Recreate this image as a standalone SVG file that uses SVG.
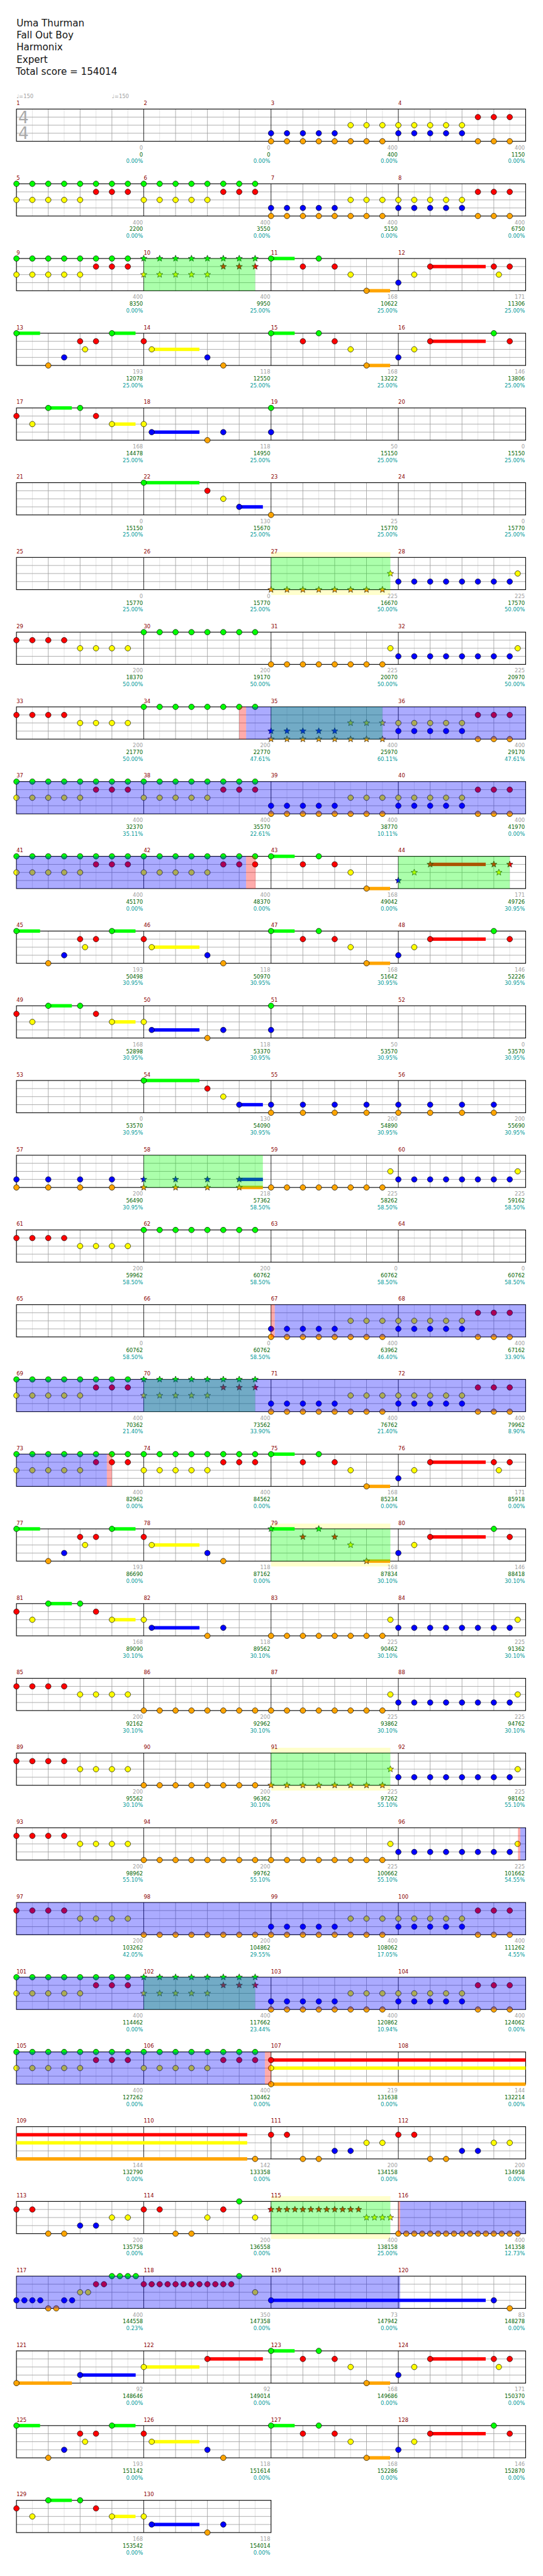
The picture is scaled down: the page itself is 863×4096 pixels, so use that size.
<svg xmlns="http://www.w3.org/2000/svg" width="863" height="4096" viewBox="0 0 863 4096">
<style>
text{font-family:"DejaVu Sans","Liberation Sans",sans-serif}
.t{font-size:18px;fill:#111}
.mn{font-size:10px;fill:#8b0000}
.l1,.l2,.l3{font-size:10px;text-anchor:end}
.l1{fill:#a0a0a0}.l2{fill:#006400}.l3{fill:#009999}
.tp{font-size:10px;fill:#a0a0a0}
.ts{font-size:31px;fill:#aaa}
.gz{fill:#0f0;fill-opacity:.33}.bz{fill:#00f;fill-opacity:.33}.rz{fill:#f00;fill-opacity:.33}.yz{fill:#ffffcc}
</style>
<defs>
<path id="st" d="M0-6.3L1.6-2.2L6-2L2.6.8L3.7 5.1L0 2.7L-3.7 5.1L-2.6.8L-6-2L-1.6-2.2Z" stroke="#000" stroke-width=".7"/>
<circle id="g" r="5.2" fill="#0f0" stroke="#000" stroke-width=".8"/>
<circle id="r" cy="15.2" r="5.2" fill="#f00" stroke="#000" stroke-width=".8"/>
<circle id="y" cy="30.4" r="5.2" fill="#ff0" stroke="#000" stroke-width=".8"/>
<circle id="b" cy="45.6" r="5.2" fill="#00f" stroke="#000" stroke-width=".8"/>
<circle id="o" cy="60.8" r="5.2" fill="#ffa500" stroke="#000" stroke-width=".8"/>
<use id="sg" href="#st" fill="#0f0"/>
<use id="sr" href="#st" y="15.2" fill="#f00"/>
<use id="sy" href="#st" y="30.4" fill="#ff0"/>
<use id="sb" href="#st" y="45.6" fill="#00f"/>
<use id="so" href="#st" y="60.8" fill="#ffa500"/>
<g id="s4">
<rect x="31" width="960" height="60.8" fill="#fff"/>
<path stroke="#dedede" d="M61 0v60.8M121 0v60.8M181 0v60.8M241 0v60.8M301 0v60.8M361 0v60.8M421 0v60.8M481 0v60.8M541 0v60.8M601 0v60.8M661 0v60.8M721 0v60.8M781 0v60.8M841 0v60.8M901 0v60.8M961 0v60.8"/>
<path stroke="#a0a0a0" d="M91 0v60.8M151 0v60.8M211 0v60.8M331 0v60.8M391 0v60.8M451 0v60.8M571 0v60.8M631 0v60.8M691 0v60.8M811 0v60.8M871 0v60.8M931 0v60.8M31 15.2h960M31 30.4h960M31 45.6h960"/>
<path stroke="#000" d="M271 0v60.8M511 0v60.8M751 0v60.8"/>
<rect x="31" width="960" height="60.8" fill="none" stroke="#000" stroke-width="1.3"/>
</g>
<g id="s2">
<rect x="31" width="480" height="60.8" fill="#fff"/>
<path stroke="#dedede" d="M61 0v60.8M121 0v60.8M181 0v60.8M241 0v60.8M301 0v60.8M361 0v60.8M421 0v60.8M481 0v60.8"/>
<path stroke="#a0a0a0" d="M91 0v60.8M151 0v60.8M211 0v60.8M331 0v60.8M391 0v60.8M451 0v60.8M31 15.2h480M31 30.4h480M31 45.6h480"/>
<path stroke="#000" d="M271 0v60.8"/>
<rect x="31" width="480" height="60.8" fill="none" stroke="#000" stroke-width="1.3"/>
</g>
<g id="riff1"><use href="#g"/><use href="#g" x="30"/><use href="#g" x="60"/><use href="#g" x="90"/><use href="#g" x="120"/><use href="#g" x="150"/><use href="#g" x="180"/><use href="#g" x="210"/><use href="#r" x="150"/><use href="#r" x="180"/><use href="#r" x="210"/><use href="#y"/><use href="#y" x="30"/><use href="#y" x="60"/><use href="#y" x="90"/><use href="#y" x="120"/></g>
<g id="riff1S"><use href="#sg"/><use href="#sg" x="30"/><use href="#sg" x="60"/><use href="#sg" x="90"/><use href="#sg" x="120"/><use href="#sg" x="150"/><use href="#sg" x="180"/><use href="#sg" x="210"/><use href="#sr" x="150"/><use href="#sr" x="180"/><use href="#sr" x="210"/><use href="#sy"/><use href="#sy" x="30"/><use href="#sy" x="60"/><use href="#sy" x="90"/><use href="#sy" x="120"/></g>
<g id="riff"><use href="#riff1"/><use href="#riff1" x="240"/></g>
<g id="bo1"><use href="#b"/><use href="#b" x="30"/><use href="#b" x="60"/><use href="#b" x="90"/><use href="#b" x="120"/><use href="#o"/><use href="#o" x="30"/><use href="#o" x="60"/><use href="#o" x="90"/><use href="#o" x="120"/><use href="#o" x="150"/><use href="#o" x="180"/><use href="#o" x="210"/><use href="#y" x="150"/><use href="#y" x="180"/><use href="#y" x="210"/></g>
<g id="bo1S"><use href="#sb"/><use href="#sb" x="30"/><use href="#sb" x="60"/><use href="#sb" x="90"/><use href="#sb" x="120"/><use href="#so"/><use href="#so" x="30"/><use href="#so" x="60"/><use href="#so" x="90"/><use href="#so" x="120"/><use href="#so" x="150"/><use href="#so" x="180"/><use href="#so" x="210"/><use href="#sy" x="150"/><use href="#sy" x="180"/><use href="#sy" x="210"/></g>
<g id="bo2"><use href="#y" x="240"/><use href="#y" x="270"/><use href="#y" x="300"/><use href="#y" x="330"/><use href="#y" x="360"/><use href="#b" x="240"/><use href="#b" x="270"/><use href="#b" x="300"/><use href="#b" x="330"/><use href="#b" x="360"/><use href="#r" x="390"/><use href="#r" x="420"/><use href="#r" x="450"/><use href="#o" x="390"/><use href="#o" x="420"/><use href="#o" x="450"/></g>
<g id="bo"><use href="#bo1"/><use href="#bo2"/></g>
<g id="c1x"><rect y="-3.2" width="44.5" height="6.4" fill="#0f0"/><use href="#g"/><use href="#g" x="90"/><use href="#r" x="60"/><use href="#r" x="120"/><use href="#y" x="150"/><rect x="180" y="57.6" width="44.5" height="6.4" fill="#ffa500"/><use href="#o" x="180"/></g>
<g id="c1xS"><rect y="-3.2" width="44.5" height="6.4" fill="#0f0"/><use href="#sg"/><use href="#sg" x="90"/><use href="#sr" x="60"/><use href="#sr" x="120"/><use href="#sy" x="150"/><rect x="180" y="57.6" width="44.5" height="6.4" fill="#ffa500"/><use href="#so" x="180"/></g>
<g id="c1y"><use href="#b" x="240"/><use href="#y" x="270"/><rect x="300" y="12" width="104.7" height="6.4" fill="#f00"/><use href="#r" x="300"/><use href="#r" x="450"/></g>
<g id="c1a"><use href="#c1x"/><use href="#c1y"/><use href="#r" x="420"/><use href="#y" x="429.5"/></g>
<g id="c1b"><use href="#c1x"/><use href="#c1y"/><use href="#g" x="420"/></g>
<g id="c13"><rect y="-3.2" width="44.5" height="6.4" fill="#0f0"/><use href="#g"/><rect x="180" y="-3.2" width="44.5" height="6.4" fill="#0f0"/><use href="#g" x="180"/><use href="#r" x="120"/><use href="#r" x="150"/><use href="#r" x="240"/><use href="#y" x="129.4"/><use href="#b" x="90"/><use href="#o" x="60"/><rect x="255" y="27.2" width="90" height="6.4" fill="#ff0"/><use href="#y" x="255"/><use href="#b" x="360"/><use href="#o" x="390"/></g>
<g id="c17"><use href="#r"/><use href="#y" x="30"/><rect x="60" y="-3.2" width="44.5" height="6.4" fill="#0f0"/><use href="#g" x="60"/><use href="#g" x="120"/><use href="#r" x="150"/><rect x="180" y="27.2" width="44.5" height="6.4" fill="#ff0"/><use href="#y" x="180"/><use href="#y" x="240"/><rect x="255" y="42.4" width="90" height="6.4" fill="#00f"/><use href="#b" x="255"/><use href="#o" x="360"/><use href="#b" x="390"/></g>
<g id="ry"><use href="#r"/><use href="#r" x="30"/><use href="#r" x="60"/><use href="#r" x="90"/><use href="#y" x="120"/><use href="#y" x="150"/><use href="#y" x="180"/><use href="#y" x="210"/></g>
<g id="g8"><use href="#g"/><use href="#g" x="30"/><use href="#g" x="60"/><use href="#g" x="90"/><use href="#g" x="120"/><use href="#g" x="150"/><use href="#g" x="180"/><use href="#g" x="210"/></g>
<g id="o8"><use href="#o"/><use href="#o" x="30"/><use href="#o" x="60"/><use href="#o" x="90"/><use href="#o" x="120"/><use href="#o" x="150"/><use href="#o" x="180"/><use href="#o" x="210"/></g>
<g id="tO"><use href="#o8"/><use href="#y" x="225"/></g>
<g id="tOS"><use href="#so"/><use href="#so" x="30"/><use href="#so" x="60"/><use href="#so" x="90"/><use href="#so" x="120"/><use href="#so" x="150"/><use href="#so" x="180"/><use href="#so" x="210"/><use href="#sy" x="225"/></g>
<g id="tB"><use href="#b" x="240"/><use href="#b" x="270"/><use href="#b" x="300"/><use href="#b" x="330"/><use href="#b" x="360"/><use href="#b" x="390"/><use href="#b" x="420"/><use href="#b" x="450"/><use href="#y" x="465"/></g>
<g id="tail"><use href="#tO"/><use href="#tB"/></g>
<g id="gs"><rect y="-3.2" width="105" height="6.4" fill="#0f0"/><use href="#g"/><use href="#r" x="120"/><use href="#y" x="150"/><rect x="180" y="42.4" width="44.6" height="6.4" fill="#00f"/><use href="#b" x="180"/></g>
</defs>
<rect width="863" height="4096" fill="#fff"/>
<g transform="scale(0.843)">
<g id="title">
<text class="t" x="31" y="49.3">Uma Thurman</text>
<text class="t" x="31" y="72.3">Fall Out Boy</text>
<text class="t" x="31" y="95.2">Harmonix</text>
<text class="t" x="31" y="118.3">Expert</text>
<text class="t" x="30" y="141.3">Total score = 154014</text>
</g>

<g id="row0" transform="translate(0,205.7)">
<use href="#s4"/>
<text class="tp" x="31" y="-20.5">♩=150</text><text class="tp" x="211" y="-20.5">♩=150</text>
<text class="ts" x="34.5" y="26.6">4</text><text class="ts" x="34.5" y="56.6">4</text>
<text class="mn" y="-7.5"><tspan x="31">1</tspan><tspan x="271">2</tspan><tspan x="511">3</tspan><tspan x="751">4</tspan></text>
<text class="l1" y="76.3"><tspan x="269.5">0</tspan><tspan x="509.5">0</tspan><tspan x="749.5">400</tspan><tspan x="989.5">400</tspan></text>
<text class="l2" y="89.3"><tspan x="269.5">0</tspan><tspan x="509.5">0</tspan><tspan x="749.5">400</tspan><tspan x="989.5">1150</tspan></text>
<text class="l3" y="102"><tspan x="269.5">0.00%</tspan><tspan x="509.5">0.00%</tspan><tspan x="749.5">0.00%</tspan><tspan x="989.5">0.00%</tspan></text>
<use href="#bo" x="511"/>
</g>

<g id="row1" transform="translate(0,346.65)">
<use href="#s4"/>
<text class="mn" y="-7.5"><tspan x="31">5</tspan><tspan x="271">6</tspan><tspan x="511">7</tspan><tspan x="751">8</tspan></text>
<text class="l1" y="76.3"><tspan x="269.5">400</tspan><tspan x="509.5">400</tspan><tspan x="749.5">400</tspan><tspan x="989.5">400</tspan></text>
<text class="l2" y="89.3"><tspan x="269.5">2200</tspan><tspan x="509.5">3550</tspan><tspan x="749.5">5150</tspan><tspan x="989.5">6750</tspan></text>
<text class="l3" y="102"><tspan x="269.5">0.00%</tspan><tspan x="509.5">0.00%</tspan><tspan x="749.5">0.00%</tspan><tspan x="989.5">0.00%</tspan></text>
<use href="#riff" x="31"/><use href="#bo" x="511"/>
</g>

<g id="row2" transform="translate(0,487.6)">
<use href="#s4"/>
<text class="mn" y="-7.5"><tspan x="31">9</tspan><tspan x="271">10</tspan><tspan x="511">11</tspan><tspan x="751">12</tspan></text>
<text class="l1" y="76.3"><tspan x="269.5">400</tspan><tspan x="509.5">400</tspan><tspan x="749.5">168</tspan><tspan x="989.5">171</tspan></text>
<text class="l2" y="89.3"><tspan x="269.5">8350</tspan><tspan x="509.5">9950</tspan><tspan x="749.5">10622</tspan><tspan x="989.5">11306</tspan></text>
<text class="l3" y="102"><tspan x="269.5">0.00%</tspan><tspan x="509.5">25.00%</tspan><tspan x="749.5">25.00%</tspan><tspan x="989.5">25.00%</tspan></text>
<use href="#riff1" x="31"/><use href="#riff1S" x="271"/><use href="#c1a" x="511"/>
<rect class="gz" x="271" width="210" height="60.8"/>
</g>

<g id="row3" transform="translate(0,628.55)">
<use href="#s4"/>
<text class="mn" y="-7.5"><tspan x="31">13</tspan><tspan x="271">14</tspan><tspan x="511">15</tspan><tspan x="751">16</tspan></text>
<text class="l1" y="76.3"><tspan x="269.5">193</tspan><tspan x="509.5">118</tspan><tspan x="749.5">168</tspan><tspan x="989.5">146</tspan></text>
<text class="l2" y="89.3"><tspan x="269.5">12078</tspan><tspan x="509.5">12550</tspan><tspan x="749.5">13222</tspan><tspan x="989.5">13806</tspan></text>
<text class="l3" y="102"><tspan x="269.5">25.00%</tspan><tspan x="509.5">25.00%</tspan><tspan x="749.5">25.00%</tspan><tspan x="989.5">25.00%</tspan></text>
<use href="#c13" x="31"/><use href="#c1b" x="511"/>
</g>

<g id="row4" transform="translate(0,769.5)">
<use href="#s4"/>
<text class="mn" y="-7.5"><tspan x="31">17</tspan><tspan x="271">18</tspan><tspan x="511">19</tspan><tspan x="751">20</tspan></text>
<text class="l1" y="76.3"><tspan x="269.5">168</tspan><tspan x="509.5">118</tspan><tspan x="749.5">50</tspan><tspan x="989.5">0</tspan></text>
<text class="l2" y="89.3"><tspan x="269.5">14478</tspan><tspan x="509.5">14950</tspan><tspan x="749.5">15150</tspan><tspan x="989.5">15150</tspan></text>
<text class="l3" y="102"><tspan x="269.5">25.00%</tspan><tspan x="509.5">25.00%</tspan><tspan x="749.5">25.00%</tspan><tspan x="989.5">25.00%</tspan></text>
<use href="#c17" x="31"/><use href="#g" x="511"/><use href="#b" x="511"/>
</g>

<g id="row5" transform="translate(0,910.45)">
<use href="#s4"/>
<text class="mn" y="-7.5"><tspan x="31">21</tspan><tspan x="271">22</tspan><tspan x="511">23</tspan><tspan x="751">24</tspan></text>
<text class="l1" y="76.3"><tspan x="269.5">0</tspan><tspan x="509.5">130</tspan><tspan x="749.5">25</tspan><tspan x="989.5">0</tspan></text>
<text class="l2" y="89.3"><tspan x="269.5">15150</tspan><tspan x="509.5">15670</tspan><tspan x="749.5">15770</tspan><tspan x="989.5">15770</tspan></text>
<text class="l3" y="102"><tspan x="269.5">25.00%</tspan><tspan x="509.5">25.00%</tspan><tspan x="749.5">25.00%</tspan><tspan x="989.5">25.00%</tspan></text>
<use href="#gs" x="271"/><use href="#o" x="511"/>
</g>

<g id="row6" transform="translate(0,1051.4)">
<rect class="yz" x="511" y="-10" width="225" height="80.8"/>
<use href="#s4"/>
<text class="mn" y="-7.5"><tspan x="31">25</tspan><tspan x="271">26</tspan><tspan x="511">27</tspan><tspan x="751">28</tspan></text>
<text class="l1" y="76.3"><tspan x="269.5">0</tspan><tspan x="509.5">0</tspan><tspan x="749.5">225</tspan><tspan x="989.5">225</tspan></text>
<text class="l2" y="89.3"><tspan x="269.5">15770</tspan><tspan x="509.5">15770</tspan><tspan x="749.5">16670</tspan><tspan x="989.5">17570</tspan></text>
<text class="l3" y="102"><tspan x="269.5">25.00%</tspan><tspan x="509.5">25.00%</tspan><tspan x="749.5">50.00%</tspan><tspan x="989.5">50.00%</tspan></text>
<use href="#tOS" x="511"/><use href="#tB" x="511"/>
<rect class="gz" x="511" width="225" height="60.8"/>
</g>

<g id="row7" transform="translate(0,1192.35)">
<use href="#s4"/>
<text class="mn" y="-7.5"><tspan x="31">29</tspan><tspan x="271">30</tspan><tspan x="511">31</tspan><tspan x="751">32</tspan></text>
<text class="l1" y="76.3"><tspan x="269.5">200</tspan><tspan x="509.5">200</tspan><tspan x="749.5">225</tspan><tspan x="989.5">225</tspan></text>
<text class="l2" y="89.3"><tspan x="269.5">18370</tspan><tspan x="509.5">19170</tspan><tspan x="749.5">20070</tspan><tspan x="989.5">20970</tspan></text>
<text class="l3" y="102"><tspan x="269.5">50.00%</tspan><tspan x="509.5">50.00%</tspan><tspan x="749.5">50.00%</tspan><tspan x="989.5">50.00%</tspan></text>
<use href="#ry" x="31"/><use href="#g8" x="271"/><use href="#tail" x="511"/>
</g>

<g id="row8" transform="translate(0,1333.3)">
<use href="#s4"/>
<text class="mn" y="-7.5"><tspan x="31">33</tspan><tspan x="271">34</tspan><tspan x="511">35</tspan><tspan x="751">36</tspan></text>
<text class="l1" y="76.3"><tspan x="269.5">200</tspan><tspan x="509.5">200</tspan><tspan x="749.5">400</tspan><tspan x="989.5">400</tspan></text>
<text class="l2" y="89.3"><tspan x="269.5">21770</tspan><tspan x="509.5">22770</tspan><tspan x="749.5">25970</tspan><tspan x="989.5">29170</tspan></text>
<text class="l3" y="102"><tspan x="269.5">50.00%</tspan><tspan x="509.5">47.61%</tspan><tspan x="749.5">60.11%</tspan><tspan x="989.5">47.61%</tspan></text>
<use href="#ry" x="31"/><use href="#g8" x="271"/><use href="#bo1S" x="511"/><use href="#bo2" x="511"/>
<rect class="gz" x="511" width="210" height="60.8"/>
<rect class="rz" x="451" width="13" height="60.8"/>
<rect class="bz" x="464" width="527" height="60.8"/>
</g>

<g id="row9" transform="translate(0,1474.25)">
<use href="#s4"/>
<text class="mn" y="-7.5"><tspan x="31">37</tspan><tspan x="271">38</tspan><tspan x="511">39</tspan><tspan x="751">40</tspan></text>
<text class="l1" y="76.3"><tspan x="269.5">400</tspan><tspan x="509.5">400</tspan><tspan x="749.5">400</tspan><tspan x="989.5">400</tspan></text>
<text class="l2" y="89.3"><tspan x="269.5">32370</tspan><tspan x="509.5">35570</tspan><tspan x="749.5">38770</tspan><tspan x="989.5">41970</tspan></text>
<text class="l3" y="102"><tspan x="269.5">35.11%</tspan><tspan x="509.5">22.61%</tspan><tspan x="749.5">10.11%</tspan><tspan x="989.5">0.00%</tspan></text>
<use href="#riff" x="31"/><use href="#bo" x="511"/>
<rect class="bz" x="31" width="960" height="60.8"/>
</g>

<g id="row10" transform="translate(0,1615.2)">
<use href="#s4"/>
<text class="mn" y="-7.5"><tspan x="31">41</tspan><tspan x="271">42</tspan><tspan x="511">43</tspan><tspan x="751">44</tspan></text>
<text class="l1" y="76.3"><tspan x="269.5">400</tspan><tspan x="509.5">400</tspan><tspan x="749.5">168</tspan><tspan x="989.5">171</tspan></text>
<text class="l2" y="89.3"><tspan x="269.5">45170</tspan><tspan x="509.5">48370</tspan><tspan x="749.5">49042</tspan><tspan x="989.5">49726</tspan></text>
<text class="l3" y="102"><tspan x="269.5">0.00%</tspan><tspan x="509.5">0.00%</tspan><tspan x="749.5">0.00%</tspan><tspan x="989.5">30.95%</tspan></text>
<use href="#riff" x="31"/><use href="#c1x" x="511"/>
<use href="#sb" x="751"/><use href="#sy" x="781"/><rect x="811" y="12" width="104.7" height="6.4" fill="#f00"/><use href="#sr" x="811"/><use href="#sr" x="931"/><use href="#sy" x="940.5"/><use href="#sr" x="961"/>
<rect class="gz" x="751" width="210" height="60.8"/>
<rect class="bz" x="31" width="433" height="60.8"/>
<rect class="rz" x="464" width="18" height="60.8"/>
</g>

<g id="row11" transform="translate(0,1756.15)">
<use href="#s4"/>
<text class="mn" y="-7.5"><tspan x="31">45</tspan><tspan x="271">46</tspan><tspan x="511">47</tspan><tspan x="751">48</tspan></text>
<text class="l1" y="76.3"><tspan x="269.5">193</tspan><tspan x="509.5">118</tspan><tspan x="749.5">168</tspan><tspan x="989.5">146</tspan></text>
<text class="l2" y="89.3"><tspan x="269.5">50498</tspan><tspan x="509.5">50970</tspan><tspan x="749.5">51642</tspan><tspan x="989.5">52226</tspan></text>
<text class="l3" y="102"><tspan x="269.5">30.95%</tspan><tspan x="509.5">30.95%</tspan><tspan x="749.5">30.95%</tspan><tspan x="989.5">30.95%</tspan></text>
<use href="#c13" x="31"/><use href="#c1b" x="511"/>
</g>

<g id="row12" transform="translate(0,1897.1)">
<use href="#s4"/>
<text class="mn" y="-7.5"><tspan x="31">49</tspan><tspan x="271">50</tspan><tspan x="511">51</tspan><tspan x="751">52</tspan></text>
<text class="l1" y="76.3"><tspan x="269.5">168</tspan><tspan x="509.5">118</tspan><tspan x="749.5">50</tspan><tspan x="989.5">0</tspan></text>
<text class="l2" y="89.3"><tspan x="269.5">52898</tspan><tspan x="509.5">53370</tspan><tspan x="749.5">53570</tspan><tspan x="989.5">53570</tspan></text>
<text class="l3" y="102"><tspan x="269.5">30.95%</tspan><tspan x="509.5">30.95%</tspan><tspan x="749.5">30.95%</tspan><tspan x="989.5">30.95%</tspan></text>
<use href="#c17" x="31"/><use href="#g" x="511"/><use href="#b" x="511"/>
</g>

<g id="row13" transform="translate(0,2038.05)">
<use href="#s4"/>
<text class="mn" y="-7.5"><tspan x="31">53</tspan><tspan x="271">54</tspan><tspan x="511">55</tspan><tspan x="751">56</tspan></text>
<text class="l1" y="76.3"><tspan x="269.5">0</tspan><tspan x="509.5">130</tspan><tspan x="749.5">200</tspan><tspan x="989.5">200</tspan></text>
<text class="l2" y="89.3"><tspan x="269.5">53570</tspan><tspan x="509.5">54090</tspan><tspan x="749.5">54890</tspan><tspan x="989.5">55690</tspan></text>
<text class="l3" y="102"><tspan x="269.5">30.95%</tspan><tspan x="509.5">30.95%</tspan><tspan x="749.5">30.95%</tspan><tspan x="989.5">30.95%</tspan></text>
<use href="#gs" x="271"/>
<use href="#b" x="511"/><use href="#b" x="571"/><use href="#b" x="631"/><use href="#b" x="691"/><use href="#b" x="751"/><use href="#b" x="811"/><use href="#b" x="871"/><use href="#b" x="931"/>
<use href="#o" x="511"/><use href="#o" x="571"/><use href="#o" x="631"/><use href="#o" x="691"/><use href="#o" x="751"/><use href="#o" x="811"/><use href="#o" x="871"/><use href="#o" x="931"/>
</g>

<g id="row14" transform="translate(0,2179)">
<use href="#s4"/>
<text class="mn" y="-7.5"><tspan x="31">57</tspan><tspan x="271">58</tspan><tspan x="511">59</tspan><tspan x="751">60</tspan></text>
<text class="l1" y="76.3"><tspan x="269.5">200</tspan><tspan x="509.5">218</tspan><tspan x="749.5">225</tspan><tspan x="989.5">225</tspan></text>
<text class="l2" y="89.3"><tspan x="269.5">56490</tspan><tspan x="509.5">57362</tspan><tspan x="749.5">58262</tspan><tspan x="989.5">59162</tspan></text>
<text class="l3" y="102"><tspan x="269.5">30.95%</tspan><tspan x="509.5">58.50%</tspan><tspan x="749.5">58.50%</tspan><tspan x="989.5">58.50%</tspan></text>
<use href="#b" x="31"/><use href="#b" x="91"/><use href="#b" x="151"/><use href="#b" x="211"/>
<use href="#o" x="31"/><use href="#o" x="91"/><use href="#o" x="151"/><use href="#o" x="211"/>
<rect x="451" y="42.4" width="44.6" height="6.4" fill="#00f"/><rect x="451" y="57.6" width="44.6" height="6.4" fill="#ffa500"/>
<use href="#sb" x="271"/><use href="#sb" x="331"/><use href="#sb" x="391"/><use href="#sb" x="451"/>
<use href="#so" x="271"/><use href="#so" x="331"/><use href="#so" x="391"/><use href="#so" x="451"/>
<use href="#tail" x="511"/>
<rect class="gz" x="271" width="224.6" height="60.8"/>
</g>

<g id="row15" transform="translate(0,2319.95)">
<use href="#s4"/>
<text class="mn" y="-7.5"><tspan x="31">61</tspan><tspan x="271">62</tspan><tspan x="511">63</tspan><tspan x="751">64</tspan></text>
<text class="l1" y="76.3"><tspan x="269.5">200</tspan><tspan x="509.5">200</tspan><tspan x="749.5">0</tspan><tspan x="989.5">0</tspan></text>
<text class="l2" y="89.3"><tspan x="269.5">59962</tspan><tspan x="509.5">60762</tspan><tspan x="749.5">60762</tspan><tspan x="989.5">60762</tspan></text>
<text class="l3" y="102"><tspan x="269.5">58.50%</tspan><tspan x="509.5">58.50%</tspan><tspan x="749.5">58.50%</tspan><tspan x="989.5">58.50%</tspan></text>
<use href="#ry" x="31"/><use href="#g8" x="271"/>
</g>

<g id="row16" transform="translate(0,2460.9)">
<use href="#s4"/>
<text class="mn" y="-7.5"><tspan x="31">65</tspan><tspan x="271">66</tspan><tspan x="511">67</tspan><tspan x="751">68</tspan></text>
<text class="l1" y="76.3"><tspan x="269.5">0</tspan><tspan x="509.5">0</tspan><tspan x="749.5">400</tspan><tspan x="989.5">400</tspan></text>
<text class="l2" y="89.3"><tspan x="269.5">60762</tspan><tspan x="509.5">60762</tspan><tspan x="749.5">63962</tspan><tspan x="989.5">67162</tspan></text>
<text class="l3" y="102"><tspan x="269.5">58.50%</tspan><tspan x="509.5">58.50%</tspan><tspan x="749.5">46.40%</tspan><tspan x="989.5">33.90%</tspan></text>
<use href="#bo" x="511"/>
<rect class="rz" x="511" width="7" height="60.8"/>
<rect class="bz" x="518" width="473" height="60.8"/>
</g>

<g id="row17" transform="translate(0,2601.85)">
<use href="#s4"/>
<text class="mn" y="-7.5"><tspan x="31">69</tspan><tspan x="271">70</tspan><tspan x="511">71</tspan><tspan x="751">72</tspan></text>
<text class="l1" y="76.3"><tspan x="269.5">400</tspan><tspan x="509.5">400</tspan><tspan x="749.5">400</tspan><tspan x="989.5">400</tspan></text>
<text class="l2" y="89.3"><tspan x="269.5">70362</tspan><tspan x="509.5">73562</tspan><tspan x="749.5">76762</tspan><tspan x="989.5">79962</tspan></text>
<text class="l3" y="102"><tspan x="269.5">21.40%</tspan><tspan x="509.5">33.90%</tspan><tspan x="749.5">21.40%</tspan><tspan x="989.5">8.90%</tspan></text>
<use href="#riff1" x="31"/><use href="#riff1S" x="271"/><use href="#bo" x="511"/>
<rect class="gz" x="271" width="210" height="60.8"/>
<rect class="bz" x="31" width="960" height="60.8"/>
</g>

<g id="row18" transform="translate(0,2742.8)">
<use href="#s4"/>
<text class="mn" y="-7.5"><tspan x="31">73</tspan><tspan x="271">74</tspan><tspan x="511">75</tspan><tspan x="751">76</tspan></text>
<text class="l1" y="76.3"><tspan x="269.5">400</tspan><tspan x="509.5">400</tspan><tspan x="749.5">168</tspan><tspan x="989.5">171</tspan></text>
<text class="l2" y="89.3"><tspan x="269.5">82962</tspan><tspan x="509.5">84562</tspan><tspan x="749.5">85234</tspan><tspan x="989.5">85918</tspan></text>
<text class="l3" y="102"><tspan x="269.5">0.00%</tspan><tspan x="509.5">0.00%</tspan><tspan x="749.5">0.00%</tspan><tspan x="989.5">0.00%</tspan></text>
<use href="#riff" x="31"/><use href="#c1a" x="511"/>
<rect class="bz" x="31" width="170.5" height="60.8"/>
<rect class="rz" x="201.5" width="9.5" height="60.8"/>
</g>

<g id="row19" transform="translate(0,2883.75)">
<rect class="yz" x="511" y="-10" width="225" height="80.8"/>
<use href="#s4"/>
<text class="mn" y="-7.5"><tspan x="31">77</tspan><tspan x="271">78</tspan><tspan x="511">79</tspan><tspan x="751">80</tspan></text>
<text class="l1" y="76.3"><tspan x="269.5">193</tspan><tspan x="509.5">118</tspan><tspan x="749.5">168</tspan><tspan x="989.5">146</tspan></text>
<text class="l2" y="89.3"><tspan x="269.5">86690</tspan><tspan x="509.5">87162</tspan><tspan x="749.5">87834</tspan><tspan x="989.5">88418</tspan></text>
<text class="l3" y="102"><tspan x="269.5">0.00%</tspan><tspan x="509.5">0.00%</tspan><tspan x="749.5">30.10%</tspan><tspan x="989.5">30.10%</tspan></text>
<use href="#c13" x="31"/><use href="#c1xS" x="511"/><use href="#c1y" x="511"/><use href="#g" x="931"/>
<rect class="gz" x="511" width="225" height="60.8"/>
</g>

<g id="row20" transform="translate(0,3024.7)">
<use href="#s4"/>
<text class="mn" y="-7.5"><tspan x="31">81</tspan><tspan x="271">82</tspan><tspan x="511">83</tspan><tspan x="751">84</tspan></text>
<text class="l1" y="76.3"><tspan x="269.5">168</tspan><tspan x="509.5">118</tspan><tspan x="749.5">225</tspan><tspan x="989.5">225</tspan></text>
<text class="l2" y="89.3"><tspan x="269.5">89090</tspan><tspan x="509.5">89562</tspan><tspan x="749.5">90462</tspan><tspan x="989.5">91362</tspan></text>
<text class="l3" y="102"><tspan x="269.5">30.10%</tspan><tspan x="509.5">30.10%</tspan><tspan x="749.5">30.10%</tspan><tspan x="989.5">30.10%</tspan></text>
<use href="#c17" x="31"/><use href="#tail" x="511"/>
</g>

<g id="row21" transform="translate(0,3165.65)">
<use href="#s4"/>
<text class="mn" y="-7.5"><tspan x="31">85</tspan><tspan x="271">86</tspan><tspan x="511">87</tspan><tspan x="751">88</tspan></text>
<text class="l1" y="76.3"><tspan x="269.5">200</tspan><tspan x="509.5">200</tspan><tspan x="749.5">225</tspan><tspan x="989.5">225</tspan></text>
<text class="l2" y="89.3"><tspan x="269.5">92162</tspan><tspan x="509.5">92962</tspan><tspan x="749.5">93862</tspan><tspan x="989.5">94762</tspan></text>
<text class="l3" y="102"><tspan x="269.5">30.10%</tspan><tspan x="509.5">30.10%</tspan><tspan x="749.5">30.10%</tspan><tspan x="989.5">30.10%</tspan></text>
<use href="#ry" x="31"/><use href="#o8" x="271"/><use href="#tail" x="511"/>
</g>

<g id="row22" transform="translate(0,3306.6)">
<rect class="yz" x="511" y="-10" width="225" height="80.8"/>
<use href="#s4"/>
<text class="mn" y="-7.5"><tspan x="31">89</tspan><tspan x="271">90</tspan><tspan x="511">91</tspan><tspan x="751">92</tspan></text>
<text class="l1" y="76.3"><tspan x="269.5">200</tspan><tspan x="509.5">200</tspan><tspan x="749.5">225</tspan><tspan x="989.5">225</tspan></text>
<text class="l2" y="89.3"><tspan x="269.5">95562</tspan><tspan x="509.5">96362</tspan><tspan x="749.5">97262</tspan><tspan x="989.5">98162</tspan></text>
<text class="l3" y="102"><tspan x="269.5">30.10%</tspan><tspan x="509.5">30.10%</tspan><tspan x="749.5">55.10%</tspan><tspan x="989.5">55.10%</tspan></text>
<use href="#ry" x="31"/><use href="#o8" x="271"/><use href="#tOS" x="511"/><use href="#tB" x="511"/>
<rect class="gz" x="511" width="225" height="60.8"/>
</g>

<g id="row23" transform="translate(0,3447.55)">
<use href="#s4"/>
<text class="mn" y="-7.5"><tspan x="31">93</tspan><tspan x="271">94</tspan><tspan x="511">95</tspan><tspan x="751">96</tspan></text>
<text class="l1" y="76.3"><tspan x="269.5">200</tspan><tspan x="509.5">200</tspan><tspan x="749.5">225</tspan><tspan x="989.5">225</tspan></text>
<text class="l2" y="89.3"><tspan x="269.5">98962</tspan><tspan x="509.5">99762</tspan><tspan x="749.5">100662</tspan><tspan x="989.5">101662</tspan></text>
<text class="l3" y="102"><tspan x="269.5">55.10%</tspan><tspan x="509.5">55.10%</tspan><tspan x="749.5">55.10%</tspan><tspan x="989.5">54.55%</tspan></text>
<use href="#ry" x="31"/><use href="#o8" x="271"/><use href="#tail" x="511"/>
<rect class="rz" x="976.5" width="4.5" height="60.8"/>
<rect class="bz" x="981" width="10" height="60.8"/>
</g>

<g id="row24" transform="translate(0,3588.5)">
<use href="#s4"/>
<text class="mn" y="-7.5"><tspan x="31">97</tspan><tspan x="271">98</tspan><tspan x="511">99</tspan><tspan x="751">100</tspan></text>
<text class="l1" y="76.3"><tspan x="269.5">200</tspan><tspan x="509.5">200</tspan><tspan x="749.5">400</tspan><tspan x="989.5">400</tspan></text>
<text class="l2" y="89.3"><tspan x="269.5">103262</tspan><tspan x="509.5">104862</tspan><tspan x="749.5">108062</tspan><tspan x="989.5">111262</tspan></text>
<text class="l3" y="102"><tspan x="269.5">42.05%</tspan><tspan x="509.5">29.55%</tspan><tspan x="749.5">17.05%</tspan><tspan x="989.5">4.55%</tspan></text>
<use href="#ry" x="31"/><use href="#o8" x="271"/><use href="#bo" x="511"/>
<rect class="bz" x="31" width="960" height="60.8"/>
</g>

<g id="row25" transform="translate(0,3729.45)">
<use href="#s4"/>
<text class="mn" y="-7.5"><tspan x="31">101</tspan><tspan x="271">102</tspan><tspan x="511">103</tspan><tspan x="751">104</tspan></text>
<text class="l1" y="76.3"><tspan x="269.5">400</tspan><tspan x="509.5">400</tspan><tspan x="749.5">400</tspan><tspan x="989.5">400</tspan></text>
<text class="l2" y="89.3"><tspan x="269.5">114462</tspan><tspan x="509.5">117662</tspan><tspan x="749.5">120862</tspan><tspan x="989.5">124062</tspan></text>
<text class="l3" y="102"><tspan x="269.5">0.00%</tspan><tspan x="509.5">23.44%</tspan><tspan x="749.5">10.94%</tspan><tspan x="989.5">0.00%</tspan></text>
<use href="#riff1" x="31"/><use href="#riff1S" x="271"/><use href="#bo" x="511"/>
<rect class="gz" x="271" width="210" height="60.8"/>
<rect class="bz" x="31" width="960" height="60.8"/>
</g>

<g id="row26" transform="translate(0,3870.4)">
<use href="#s4"/>
<text class="mn" y="-7.5"><tspan x="31">105</tspan><tspan x="271">106</tspan><tspan x="511">107</tspan><tspan x="751">108</tspan></text>
<text class="l1" y="76.3"><tspan x="269.5">400</tspan><tspan x="509.5">400</tspan><tspan x="749.5">219</tspan><tspan x="989.5">144</tspan></text>
<text class="l2" y="89.3"><tspan x="269.5">127262</tspan><tspan x="509.5">130462</tspan><tspan x="749.5">131638</tspan><tspan x="989.5">132214</tspan></text>
<text class="l3" y="102"><tspan x="269.5">0.00%</tspan><tspan x="509.5">0.00%</tspan><tspan x="749.5">0.00%</tspan><tspan x="989.5">0.00%</tspan></text>
<use href="#riff" x="31"/>
<rect x="511" y="12" width="480" height="6.4" fill="#f00"/><rect x="511" y="27.2" width="480" height="6.4" fill="#ff0"/><rect x="511" y="57.6" width="480" height="6.4" fill="#ffa500"/>
<use href="#r" x="511"/><use href="#y" x="511"/><use href="#o" x="511"/>
<rect class="bz" x="31" width="468.5" height="60.8"/>
<rect class="rz" x="499.5" width="11.5" height="60.8"/>
</g>

<g id="row27" transform="translate(0,4011.35)">
<use href="#s4"/>
<text class="mn" y="-7.5"><tspan x="31">109</tspan><tspan x="271">110</tspan><tspan x="511">111</tspan><tspan x="751">112</tspan></text>
<text class="l1" y="76.3"><tspan x="269.5">144</tspan><tspan x="509.5">142</tspan><tspan x="749.5">200</tspan><tspan x="989.5">200</tspan></text>
<text class="l2" y="89.3"><tspan x="269.5">132790</tspan><tspan x="509.5">133358</tspan><tspan x="749.5">134158</tspan><tspan x="989.5">134958</tspan></text>
<text class="l3" y="102"><tspan x="269.5">0.00%</tspan><tspan x="509.5">0.00%</tspan><tspan x="749.5">0.00%</tspan><tspan x="989.5">0.00%</tspan></text>
<rect x="31" y="12" width="435" height="6.4" fill="#f00"/><rect x="31" y="27.2" width="435" height="6.4" fill="#ff0"/><rect x="31" y="57.6" width="435" height="6.4" fill="#ffa500"/>
<use href="#o" x="481"/><use href="#r" x="511"/><use href="#r" x="541"/><use href="#o" x="571"/><use href="#o" x="601"/><use href="#b" x="631"/><use href="#b" x="661"/><use href="#y" x="691"/><use href="#y" x="721"/><use href="#r" x="751"/><use href="#r" x="781"/><use href="#o" x="811"/><use href="#o" x="841"/><use href="#b" x="871"/><use href="#b" x="901"/><use href="#y" x="931"/><use href="#y" x="961"/>
</g>

<g id="row28" transform="translate(0,4152.3)">
<rect class="yz" x="511" y="-10" width="225" height="80.8"/>
<use href="#s4"/>
<text class="mn" y="-7.5"><tspan x="31">113</tspan><tspan x="271">114</tspan><tspan x="511">115</tspan><tspan x="751">116</tspan></text>
<text class="l1" y="76.3"><tspan x="269.5">200</tspan><tspan x="509.5">200</tspan><tspan x="749.5">400</tspan><tspan x="989.5">400</tspan></text>
<text class="l2" y="89.3"><tspan x="269.5">135758</tspan><tspan x="509.5">136558</tspan><tspan x="749.5">138158</tspan><tspan x="989.5">141358</tspan></text>
<text class="l3" y="102"><tspan x="269.5">0.00%</tspan><tspan x="509.5">0.00%</tspan><tspan x="749.5">25.00%</tspan><tspan x="989.5">12.73%</tspan></text>
<use href="#r" x="31"/><use href="#r" x="61"/><use href="#o" x="91"/><use href="#o" x="121"/><use href="#b" x="151"/><use href="#b" x="181"/><use href="#y" x="211"/><use href="#y" x="241"/><use href="#r" x="271"/><use href="#r" x="301"/><use href="#o" x="331"/><use href="#o" x="361"/><use href="#y" x="391"/><use href="#r" x="421"/><use href="#g" x="451"/><use href="#y" x="481"/>
<use href="#sr" x="511"/><use href="#sr" x="526"/><use href="#sr" x="541"/><use href="#sr" x="556"/><use href="#sr" x="571"/><use href="#sr" x="586"/><use href="#sr" x="601"/><use href="#sr" x="616"/><use href="#sr" x="631"/><use href="#sr" x="646"/><use href="#sr" x="661"/><use href="#sr" x="676"/>
<use href="#sy" x="691"/><use href="#sy" x="706"/><use href="#sy" x="721"/><use href="#sy" x="736"/>
<use href="#o" x="751"/><use href="#o" x="766"/><use href="#o" x="781"/><use href="#o" x="796"/><use href="#o" x="811"/><use href="#o" x="826"/><use href="#o" x="841"/><use href="#o" x="856"/><use href="#o" x="871"/><use href="#o" x="886"/><use href="#o" x="901"/><use href="#o" x="916"/><use href="#o" x="931"/><use href="#o" x="946"/><use href="#o" x="961"/><use href="#o" x="976"/>
<rect class="gz" x="511" width="225" height="60.8"/>
<rect class="rz" x="751" width="3.5" height="60.8"/>
<rect class="bz" x="754.5" width="236.5" height="60.8"/>
</g>

<g id="row29" transform="translate(0,4293.25)">
<use href="#s4"/>
<text class="mn" y="-7.5"><tspan x="31">117</tspan><tspan x="271">118</tspan><tspan x="511">119</tspan><tspan x="751">120</tspan></text>
<text class="l1" y="76.3"><tspan x="269.5">400</tspan><tspan x="509.5">350</tspan><tspan x="749.5">73</tspan><tspan x="989.5">83</tspan></text>
<text class="l2" y="89.3"><tspan x="269.5">144558</tspan><tspan x="509.5">147358</tspan><tspan x="749.5">147942</tspan><tspan x="989.5">148278</tspan></text>
<text class="l3" y="102"><tspan x="269.5">0.23%</tspan><tspan x="509.5">0.00%</tspan><tspan x="749.5">0.00%</tspan><tspan x="989.5">0.00%</tspan></text>
<use href="#b" x="31"/><use href="#b" x="46"/><use href="#b" x="61"/><use href="#b" x="76"/><use href="#o" x="91"/><use href="#o" x="106"/><use href="#b" x="121"/><use href="#b" x="136"/><use href="#y" x="151"/><use href="#y" x="166"/><use href="#r" x="181"/><use href="#r" x="196"/><use href="#g" x="211"/><use href="#g" x="226"/><use href="#g" x="241"/><use href="#g" x="256"/>
<use href="#r" x="271"/><use href="#r" x="286"/><use href="#r" x="301"/><use href="#r" x="316"/><use href="#r" x="331"/><use href="#r" x="346"/><use href="#r" x="361"/><use href="#r" x="376"/><use href="#r" x="391"/><use href="#r" x="406"/><use href="#r" x="421"/><use href="#r" x="436"/>
<use href="#g" x="451"/><use href="#y" x="481"/>
<rect x="511" y="42.4" width="404.7" height="6.4" fill="#00f"/><use href="#b" x="511"/><use href="#b" x="931"/><use href="#o" x="961"/>
<rect class="bz" x="31" width="723.5" height="60.8"/>
</g>

<g id="row30" transform="translate(0,4434.2)">
<use href="#s4"/>
<text class="mn" y="-7.5"><tspan x="31">121</tspan><tspan x="271">122</tspan><tspan x="511">123</tspan><tspan x="751">124</tspan></text>
<text class="l1" y="76.3"><tspan x="269.5">92</tspan><tspan x="509.5">92</tspan><tspan x="749.5">168</tspan><tspan x="989.5">171</tspan></text>
<text class="l2" y="89.3"><tspan x="269.5">148646</tspan><tspan x="509.5">149014</tspan><tspan x="749.5">149686</tspan><tspan x="989.5">150370</tspan></text>
<text class="l3" y="102"><tspan x="269.5">0.00%</tspan><tspan x="509.5">0.00%</tspan><tspan x="749.5">0.00%</tspan><tspan x="989.5">0.00%</tspan></text>
<rect x="31" y="57.6" width="104.5" height="6.4" fill="#ffa500"/><use href="#o" x="31"/>
<rect x="151" y="42.4" width="104.8" height="6.4" fill="#00f"/><use href="#b" x="151"/>
<rect x="271" y="27.2" width="105" height="6.4" fill="#ff0"/><use href="#y" x="271"/>
<rect x="391" y="12" width="104.6" height="6.4" fill="#f00"/><use href="#r" x="391"/>
<use href="#c1a" x="511"/>
</g>

<g id="row31" transform="translate(0,4575.15)">
<use href="#s4"/>
<text class="mn" y="-7.5"><tspan x="31">125</tspan><tspan x="271">126</tspan><tspan x="511">127</tspan><tspan x="751">128</tspan></text>
<text class="l1" y="76.3"><tspan x="269.5">193</tspan><tspan x="509.5">118</tspan><tspan x="749.5">168</tspan><tspan x="989.5">146</tspan></text>
<text class="l2" y="89.3"><tspan x="269.5">151142</tspan><tspan x="509.5">151614</tspan><tspan x="749.5">152286</tspan><tspan x="989.5">152870</tspan></text>
<text class="l3" y="102"><tspan x="269.5">0.00%</tspan><tspan x="509.5">0.00%</tspan><tspan x="749.5">0.00%</tspan><tspan x="989.5">0.00%</tspan></text>
<use href="#c13" x="31"/><use href="#c1b" x="511"/>
</g>

<g id="row32" transform="translate(0,4716.1)">
<use href="#s2"/>
<text class="mn" y="-7.5"><tspan x="31">129</tspan><tspan x="271">130</tspan></text>
<text class="l1" y="76.3"><tspan x="269.5">168</tspan><tspan x="509.5">118</tspan></text>
<text class="l2" y="89.3"><tspan x="269.5">153542</tspan><tspan x="509.5">154014</tspan></text>
<text class="l3" y="102"><tspan x="269.5">0.00%</tspan><tspan x="509.5">0.00%</tspan></text>
<use href="#c17" x="31"/>
</g>
</g>
</svg>
